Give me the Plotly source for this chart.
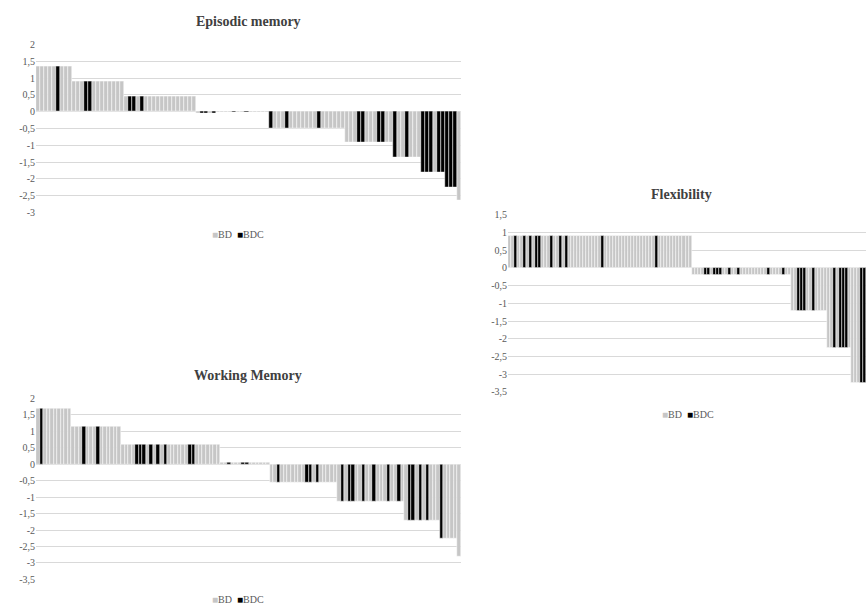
import plotly.graph_objects as go

# ---------------- data ----------------
# Episodic memory: one value per participant (sorted), indices of BDC participants
em_values = [
    1.35, 1.35, 1.35, 1.35, 1.35, 1.35, 1.35, 1.35, 1.35,
    0.9, 0.9, 0.9, 0.9, 0.9, 0.9, 0.9, 0.9, 0.9, 0.9, 0.9, 0.9, 0.9,
    0.45, 0.45, 0.45, 0.45, 0.45, 0.45, 0.45, 0.45, 0.45, 0.45, 0.45, 0.45, 0.45, 0.45, 0.45, 0.45, 0.45, 0.45,
    -0.05, -0.05, -0.05, -0.05, -0.05,
    -0.02, -0.02, -0.02, -0.02, -0.02, -0.02, -0.02, -0.02, -0.02, -0.02, -0.02, -0.02, -0.02,
    -0.5, -0.5, -0.5, -0.5, -0.5, -0.5, -0.5, -0.5, -0.5, -0.5, -0.5, -0.5, -0.5, -0.5, -0.5, -0.5, -0.5, -0.5, -0.5,
    -0.9, -0.9, -0.9, -0.9, -0.9, -0.9, -0.9, -0.9, -0.9, -0.9, -0.9, -0.9,
    -1.35, -1.35, -1.35, -1.35, -1.35, -1.35, -1.35,
    -1.8, -1.8, -1.8, -1.8, -1.8, -1.8,
    -2.25, -2.25, -2.25,
    -2.65,
]
em_bdc = [5, 12, 13, 23, 24, 26, 41, 42, 44, 49, 52, 58, 62, 70, 80, 81, 85, 86,
          89, 92, 96, 97, 98, 100, 101, 102, 103, 104]

# Flexibility
fx_values = [
    0.9, 0.9, 0.9, 0.9, 0.9, 0.9, 0.9, 0.9, 0.9, 0.9, 0.9, 0.9, 0.9, 0.9, 0.9, 0.9, 0.9, 0.9, 0.9, 0.9,
    0.9, 0.9, 0.9, 0.9, 0.9, 0.9, 0.9, 0.9, 0.9, 0.9, 0.9, 0.9, 0.9, 0.9, 0.9, 0.9, 0.9, 0.9, 0.9, 0.9,
    0.9, 0.9, 0.9, 0.9, 0.9, 0.9, 0.9, 0.9, 0.9, 0.9, 0.9, 0.9, 0.9, 0.9, 0.9, 0.9, 0.9, 0.9, 0.9, 0.9,
    0.9,
    -0.18, -0.18, -0.18, -0.18, -0.18, -0.18, -0.18, -0.18, -0.18, -0.18, -0.18, -0.18, -0.18, -0.18,
    -0.18, -0.18, -0.18, -0.18, -0.18, -0.18, -0.18, -0.18, -0.18, -0.18, -0.18, -0.18, -0.18, -0.18,
    -0.18, -0.18, -0.18, -0.18, -0.18,
    -1.2, -1.2, -1.2, -1.2, -1.2, -1.2, -1.2, -1.2, -1.2, -1.2, -1.2, -1.2,
    -2.25, -2.25, -2.25, -2.25, -2.25, -2.25, -2.25, -2.25,
    -3.25, -3.25, -3.25, -3.25, -3.25,
]
fx_bdc = [2, 5, 7, 9, 10, 14, 17, 19, 31, 49, 65, 66, 68, 69, 70, 73, 76, 86, 91,
          96, 97, 98, 101, 108, 110, 111, 112, 117, 118]

# Working memory
wm_values = [
    1.7, 1.7, 1.7, 1.7, 1.7, 1.7, 1.7, 1.7, 1.7, 1.7,
    1.15, 1.15, 1.15, 1.15, 1.15, 1.15, 1.15, 1.15, 1.15, 1.15, 1.15, 1.15, 1.15, 1.15,
    0.6, 0.6, 0.6, 0.6, 0.6, 0.6, 0.6, 0.6, 0.6, 0.6, 0.6, 0.6, 0.6, 0.6,
    0.6, 0.6, 0.6, 0.6, 0.6, 0.6, 0.6, 0.6, 0.6, 0.6, 0.6, 0.6, 0.6, 0.6,
    0.05, 0.05, 0.05, 0.05, 0.05, 0.05, 0.05, 0.05, 0.05, 0.05, 0.05, 0.05, 0.05, 0.05,
    -0.55, -0.55, -0.55, -0.55, -0.55, -0.55, -0.55, -0.55, -0.55, -0.55,
    -0.55, -0.55, -0.55, -0.55, -0.55, -0.55, -0.55, -0.55, -0.55,
    -1.12, -1.12, -1.12, -1.12, -1.12, -1.12, -1.12, -1.12, -1.12, -1.12,
    -1.12, -1.12, -1.12, -1.12, -1.12, -1.12, -1.12, -1.12, -1.12,
    -1.7, -1.7, -1.7, -1.7, -1.7, -1.7, -1.7, -1.7, -1.7, -1.7,
    -2.25, -2.25, -2.25, -2.25, -2.25,
    -2.8,
]
wm_bdc = [1, 13, 17, 28, 29, 30, 32, 34, 36, 43, 44, 54, 58, 59, 68, 76, 77, 79,
          86, 88, 89, 92, 95, 99, 102, 105, 106, 108, 110, 114]

em_ticks = [2, 1.5, 1, 0.5, 0, -0.5, -1, -1.5, -2, -2.5, -3]
fx_ticks = [1.5, 1, 0.5, 0, -0.5, -1, -1.5, -2, -2.5, -3, -3.5]
wm_ticks = [2, 1.5, 1, 0.5, 0, -0.5, -1, -1.5, -2, -2.5, -3, -3.5]

group_names = ["BD", "BDC"]
titles = ["Episodic memory", "Flexibility", "Working Memory"]

# ---------------- style ----------------
W, H = 867, 613
GRAY = "#c6c6c6"
BLACK = "#000000"
GRID = "#d9d9d9"
TXT = "#595959"
FONT = "Liberation Serif"


def label(v):
    return ("%g" % v).replace(".", ",")


fig = go.Figure()


def add_panel(values, bdc, n):
    x = list(range(len(values)))
    bdc_set = set(bdc)
    bd_y = [v if i not in bdc_set else None for i, v in enumerate(values)]
    bdc_y = [v if i in bdc_set else None for i, v in enumerate(values)]
    sfx = "" if n == 1 else str(n)
    for name, yy, col in [(group_names[0], bd_y, GRAY), (group_names[1], bdc_y, BLACK)]:
        fig.add_trace(go.Bar(
            x=x, y=yy, name=name, width=1, showlegend=False,
            marker=dict(color=col, line=dict(color="white", width=0.5)),
            xaxis="x" + sfx, yaxis="y" + sfx,
        ))


add_panel(em_values, em_bdc, 1)
add_panel(fx_values, fx_bdc, 2)
add_panel(wm_values, wm_bdc, 3)


def yax(domain, ticks, anchor):
    return dict(
        domain=domain, anchor=anchor,
        range=[min(ticks) - 0.002, max(ticks) + 0.002],
        tickvals=ticks, ticktext=[label(t) for t in ticks],
        showgrid=True, gridcolor=GRID, gridwidth=1,
        zeroline=False, showline=False, ticks="",
        tickfont=dict(family=FONT, size=10, color=TXT),
    )


def xax(domain, n, anchor):
    return dict(
        domain=domain, anchor=anchor, range=[-0.5, n - 0.5],
        showticklabels=False, showgrid=False, zeroline=False, showline=False, ticks="",
    )


fig.update_layout(
    width=W, height=H, autosize=False,
    margin=dict(l=0, r=0, t=0, b=0),
    paper_bgcolor="white", plot_bgcolor="white",
    barmode="overlay", bargap=0,
    showlegend=False,
    xaxis=xax([36 / W, 461 / W], len(em_values), "y"),
    yaxis=yax([1 - 211 / H, 1 - 40 / H], em_ticks, "x"),
    xaxis2=xax([508 / W, 866 / W], len(fx_values), "y2"),
    yaxis2=yax([1 - 393.3 / H, 1 - 213.3 / H], fx_ticks, "x2"),
    xaxis3=xax([36 / W, 461 / W], len(wm_values), "y3"),
    yaxis3=yax([1 - 584 / H, 1 - 400 / H], wm_ticks, "x3"),
)

for t, (cx, cy) in zip(titles, [(248, 17), (681, 193), (248, 377)]):
    fig.add_annotation(
        text="<b>" + t + "</b>", x=cx / W, y=1 - cy / H, xref="paper", yref="paper",
        showarrow=False, xanchor="center", yanchor="middle",
        font=dict(family=FONT, size=14, color="#404040"),
    )

# compact legends (gray / black squares followed by group names)
legend_text = ('<span style="color:%s">■</span>%s&nbsp;&nbsp;<span style="color:%s">■</span>%s'
               % (GRAY, group_names[0], BLACK, group_names[1]))
for cx, cy in [(238, 233), (688, 416), (238, 604)]:
    fig.add_annotation(
        text=legend_text, x=cx / W, y=1 - cy / H, xref="paper", yref="paper",
        showarrow=False, xanchor="center", yanchor="middle",
        font=dict(family=FONT, size=10, color=TXT),
    )

fig.write_html(
    "out.html",
    config={"displayModeBar": False},
    post_script="document.body.style.margin='0px';document.body.style.overflow='hidden';",
)
